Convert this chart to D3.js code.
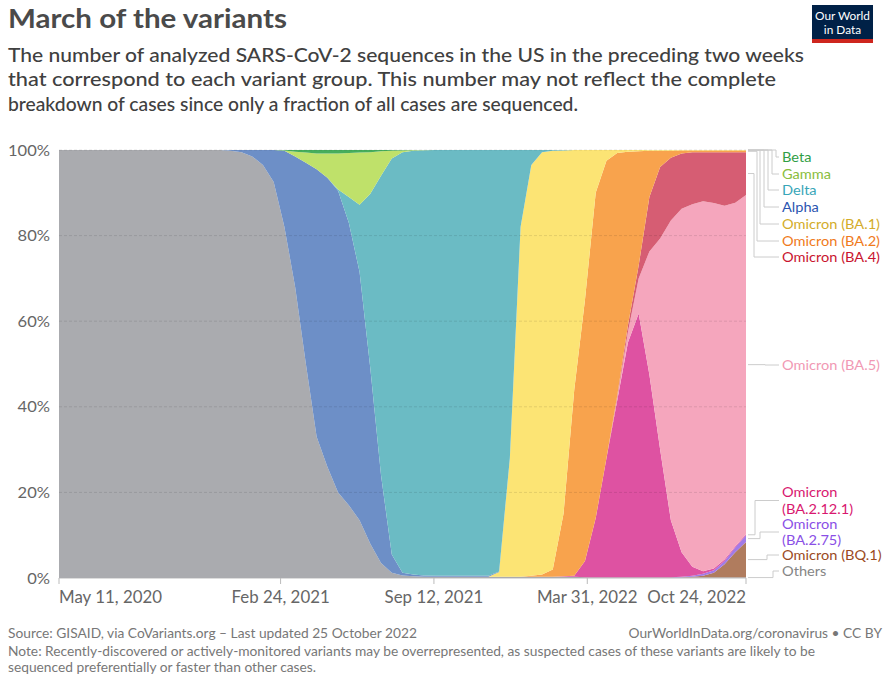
<!DOCTYPE html>
<html><head><meta charset="utf-8">
<script src="https://cdn.jsdelivr.net/npm/d3@7"></script>
<style>body{margin:0;background:#fff;} svg{font-family:Lato,"Noto Sans",sans-serif;}</style>
</head><body><svg id="c" width="890" height="678"></svg>
<script>
// ---------- DATA ----------
const dates = ["2020-05-11","2020-05-25","2020-06-08","2020-06-22","2020-07-06","2020-07-20","2020-08-03","2020-08-17","2020-08-31","2020-09-14","2020-09-28","2020-10-12","2020-10-26","2020-11-09","2020-11-23","2020-12-07",
"2020-12-21","2021-01-04","2021-01-18","2021-02-01","2021-02-15","2021-03-01","2021-03-15","2021-03-29","2021-04-12","2021-04-26","2021-05-10","2021-05-24","2021-06-07","2021-06-21","2021-07-05","2021-07-19","2021-08-02","2021-08-16","2021-08-30",
"2021-09-13","2021-09-27","2021-10-11","2021-10-25","2021-11-08","2021-11-22","2021-12-06","2021-12-20","2022-01-03","2022-01-17","2022-01-31","2022-02-14","2022-02-28","2022-03-14",
"2022-03-28","2022-04-11","2022-04-25","2022-05-09","2022-05-23","2022-06-06","2022-06-20","2022-07-04","2022-07-18","2022-08-01","2022-08-15","2022-08-29","2022-09-12","2022-09-26","2022-10-10","2022-10-24"];

const others = [100,100,100,100,100,100,100,100,100,100,100,100,100,100,100,100,
99.8,99.5,98.5,96.5,92.5,82,68,50,33,26,20,17,13.5,8,3.5,1.2,0.6,0.4,0.3,
0.3,0.3,0.3,0.3,0.3,0.3,0.3,0.3,0.3,0.3,0.3,0.3,0.3,0.3,
0.2,0.2,0.2,0.2,0.2,0.2,0.2,0.2,0.2,0.2,0.2,0.2,0.2,0.2,0.2,0.2];
const bq1 = [0,0,0,0,0,0,0,0,0,0,0,0,0,0,0,0,0,0,0,0,0,0,0,0,0,0,0,0,0,0,0,0,0,0,0,0,0,0,0,0,0,0,0,0,0,0,0,0,0,0,0,0,0,0,0,0,0,0,0,
0.1,0.3,1,3,5.8,8.2];
const ba275 = [0,0,0,0,0,0,0,0,0,0,0,0,0,0,0,0,0,0,0,0,0,0,0,0,0,0,0,0,0,0,0,0,0,0,0,0,0,0,0,0,0,0,0,0,0,0,0,0,0,0,0,0,0,0,0,0,0,0,
0.1,0.2,0.5,0.6,0.8,1.2,1.6];
const ba2121 = [0,0,0,0,0,0,0,0,0,0,0,0,0,0,0,0,0,0,0,0,0,0,0,0,0,0,0,0,0,0,0,0,0,0,0,0,0,0,0,0,0,0,0,0,0,0,0,
0.1,0.2,3.8,13.8,27.8,41.3,54.8,61.6,47.3,29.8,13.3,5.7,2.1,0.6,0.4,0.3,0.2,0.2];
const ba5 = [0,0,0,0,0,0,0,0,0,0,0,0,0,0,0,0,0,0,0,0,0,0,0,0,0,0,0,0,0,0,0,0,0,0,0,0,0,0,0,0,0,0,0,0,0,0,0,0,0,0,0,0,
0.5,2.5,8.2,28.8,49.3,70,80.3,84.7,86.4,85.4,82.7,80.3,79.3];
const ba4 = [0,0,0,0,0,0,0,0,0,0,0,0,0,0,0,0,0,0,0,0,0,0,0,0,0,0,0,0,0,0,0,0,0,0,0,0,0,0,0,0,0,0,0,0,0,0,0,0,0,0,0,0,
0.5,1.5,3,12.7,16.7,14.7,12.9,12.2,11.5,11.9,12.5,11.8,10];
const ba2 = [0,0,0,0,0,0,0,0,0,0,0,0,0,0,0,0,0,0,0,0,0,0,0,0,0,0,0,0,0,0,0,0,0,0,0,0,0,0,0,0,0,0,0,0,
0.2,0.5,1.7,14.6,43.5,61,76,69.5,56.8,40.6,26.7,10.8,3.8,1.65,0.7,0.4,0.4,0.4,0.4,0.4,0.4];
const ba1 = [0,0,0,0,0,0,0,0,0,0,0,0,0,0,0,0,0,0,0,0,0,0,0,0,0,0,0,0,0,0,0,0,0,0,0,0,0,0,0,0,0,
1.1,27.7,81.7,96,98.7,97.8,84.9,56,35,10,2.5,0.7,0.4,0.3,0.2,0.2,0.15,0.1,0.1,0.1,0.1,0.1,0.1,0.1];
const alpha = [0,0,0,0,0,0,0,0,0,0,0,0,0,0,0,0,
0.2,0.5,1.5,3.5,7.5,17.8,30.5,47,62.5,67.5,70.5,66,58,41,20.5,4.3,0.6,0.4,0.3,
0.2,0.2,0.2,0.2,0.2,0.2,0.1,
0,0,0,0,0,0,0,0,0,0,0,0,0,0,0,0,0,0,0,0,0,0,0];
const delta = [0,0,0,0,0,0,0,0,0,0,0,0,0,0,0,0,0,0,0,0,0,0,0,0,0,0,
0.3,6,15.7,40.8,70,92.5,98.3,99.05,99.35,
99.5,99.5,99.5,99.5,99.5,99.5,
98.5,72,18,3.5,0.5,0.2,0.1,
0,0,0,0,0,0,0,0,0,0,0,0,0,0,0,0,0];
const gamma = [0,0,0,0,0,0,0,0,0,0,0,0,0,0,0,0,0,0,0,0,0,
0.1,1.1,2.4,3.7,5.7,8.4,10.3,12.2,9.7,5.7,1.8,0.4,0.1,0.05,
0,0,0,0,0,0,0,0,0,0,0,0,0,0,0,0,0,0,0,0,0,0,0,0,0,0,0,0,0,0];
const beta = [0,0,0,0,0,0,0,0,0,0,0,0,0,0,0,0,0,0,0,0,0,
0.1,0.4,0.6,0.8,0.8,0.8,0.7,0.6,0.5,0.3,0.2,0.1,0.05,
0,0,0,0,0,0,0,0,0,0,0,0,0,0,0,0,0,0,0,0,0,0,0,0,0,0,0,0,0,0,0];

// stacking order: bottom to top
const seriesNames = ["Others","Omicron (BQ.1)","Omicron (BA.2.75)","Omicron (BA.2.12.1)","Omicron (BA.5)","Omicron (BA.4)","Omicron (BA.2)","Omicron (BA.1)","Alpha","Delta","Gamma","Beta"];
const seriesValues = [others,bq1,ba275,ba2121,ba5,ba4,ba2,ba1,alpha,delta,gamma,beta];

const tickDates = ["2020-05-11","2021-02-24","2021-09-12","2022-03-31","2022-10-24"];
const tickLabels = ["May 11, 2020","Feb 24, 2021","Sep 12, 2021","Mar 31, 2022","Oct 24, 2022"];
const yTicks = [0,20,40,60,80,100];

// ---------- STYLE / LAYOUT ----------
const fillColors = {"Others":"#aaabaf","Omicron (BQ.1)":"#b07c5e","Omicron (BA.2.75)":"#a27ae6","Omicron (BA.2.12.1)":"#de52a2",
 "Omicron (BA.5)":"#f5a6bd","Omicron (BA.4)":"#d65d73","Omicron (BA.2)":"#f8a34d","Omicron (BA.1)":"#fce474",
 "Alpha":"#6d8fc7","Delta":"#6bbbc4","Gamma":"#bfe16a","Beta":"#47ae5c"};
const labelColors = {"Others":"#858585","Omicron (BQ.1)":"#9b4a1e","Omicron (BA.2.75)":"#8a4fe6","Omicron (BA.2.12.1)":"#d8176f",
 "Omicron (BA.5)":"#f199b4","Omicron (BA.4)":"#c9142f","Omicron (BA.2)":"#f07a1b","Omicron (BA.1)":"#d3ac2a",
 "Alpha":"#2b55b0","Delta":"#38a6b8","Gamma":"#8abd3c","Beta":"#2f9e45"};
const legendLayout = [
 {s:"Beta", lines:["Beta"], y:157, ex:776},
 {s:"Gamma", lines:["Gamma"], y:174, ex:772},
 {s:"Delta", lines:["Delta"], y:190, ex:768},
 {s:"Alpha", lines:["Alpha"], y:207, ex:764},
 {s:"Omicron (BA.1)", lines:["Omicron (BA.1)"], y:224, ex:760},
 {s:"Omicron (BA.2)", lines:["Omicron (BA.2)"], y:241, ex:757},
 {s:"Omicron (BA.4)", lines:["Omicron (BA.4)"], y:257, ex:754},
 {s:"Omicron (BA.5)", lines:["Omicron (BA.5)"], y:365, ex:765},
 {s:"Omicron (BA.2.12.1)", lines:["Omicron","(BA.2.12.1)"], y:500.5, ex:755},
 {s:"Omicron (BA.2.75)", lines:["Omicron","(BA.2.75)"], y:532, ex:760},
 {s:"Omicron (BQ.1)", lines:["Omicron (BQ.1)"], y:555, ex:767},
 {s:"Others", lines:["Others"], y:571, ex:773}
];

const W=890,H=678, L=59, R=746, T=150, B=578;
const svg = d3.select("#c");
const parse = d3.utcParse("%Y-%m-%d");

// stretch a group of texts horizontally so that one reference text gets a target width
function fit(sel, refNode, target){
  const r = target/refNode.getComputedTextLength();
  sel.each(function(){ const w=this.getComputedTextLength(); this.setAttribute("textLength", w*r); this.setAttribute("lengthAdjust","spacingAndGlyphs"); });
}
function fitOne(node, target){ node.setAttribute("textLength", target); node.setAttribute("lengthAdjust","spacingAndGlyphs"); }

const rows = dates.map((d,i)=>{const o={date:parse(d)}; seriesNames.forEach((n,j)=>o[n]=seriesValues[j][i]); return o;});
const stack = d3.stack().keys(seriesNames).offset(d3.stackOffsetExpand);
const layers = stack(rows);

const x = d3.scaleUtc().domain([parse(dates[0]), parse(dates[dates.length-1])]).range([L,R]);
const y = d3.scaleLinear().domain([0,1]).range([B,T]);

const area = d3.area().x(d=>x(d.data.date)).y0(d=>y(d[0])).y1(d=>y(d[1]));
svg.append("g").selectAll("path").data(layers).join("path")
  .attr("d",area).attr("fill",d=>fillColors[d.key]);

// grid
svg.append("g").selectAll("line").data(yTicks.filter(t=>t>0)).join("line")
  .attr("x1",L).attr("x2",R).attr("y1",d=>y(d/100)).attr("y2",d=>y(d/100))
  .attr("stroke","#000").attr("stroke-opacity",0.1).attr("stroke-dasharray","3,2");

// y labels
const yl = svg.append("g").selectAll("text").data(yTicks).join("text")
  .attr("x",50).attr("y",d=>y(d/100)+5.5).attr("text-anchor","end")
  .attr("font-size",15.5).attr("fill","#666").text(d=>d+"%");
fit(yl, yl.nodes()[5], 42);

// x axis
svg.append("line").attr("x1",L).attr("x2",R).attr("y1",B+0.5).attr("y2",B+0.5).attr("stroke","#ddd");
const tg = svg.append("g");
tickDates.forEach((t,i)=>{
  const xx = x(parse(t));
  tg.append("line").attr("x1",xx).attr("x2",xx).attr("y1",B).attr("y2",B+6).attr("stroke","#bbb");
  tg.append("text").attr("class","xt").attr("x",xx).attr("y",603).attr("font-size",16.5).attr("fill","#666")
    .attr("text-anchor", i===0?"start":(i===tickDates.length-1?"end":"middle")).text(tickLabels[i]);
});
const xts = tg.selectAll("text.xt");
fit(xts, xts.nodes()[0], 103);

// legend with connectors
const last = rows.length-1;
const lg = svg.append("g");
legendLayout.forEach(l=>{
  const layer = layers.find(q=>q.key===l.s);
  const pt = layer[last];
  const my = y((pt[0]+pt[1])/2);
  lg.append("path").attr("d",`M${R+2},${my}H${l.ex}V${l.y}H${779}`)
    .attr("fill","none").attr("stroke","#ccc").attr("stroke-width",1);
  const n = l.lines.length;
  l.lines.forEach((ln,k)=>{
    lg.append("text").attr("class","lt"+(ln==="Omicron (BA.4)"?" ref":"")).attr("x",782).attr("y",l.y+5+(k-(n-1)/2)*16.5)
      .attr("font-size",13.5).attr("fill",labelColors[l.s]).text(ln);
  });
});
const lts = lg.selectAll("text");
fit(lts, lg.select("text.ref").node(), 98);

// title & subtitle
const tt = svg.append("text").attr("x",8).attr("y",28).attr("font-size",26.5).attr("font-weight",700).attr("fill","#4a4a4a").text("March of the variants");
fitOne(tt.node(), 279);
const subLines = ["The number of analyzed SARS-CoV-2 sequences in the US in the preceding two weeks",
 "that correspond to each variant group. This number may not reflect the complete",
 "breakdown of cases since only a fraction of all cases are sequenced."];
const subWidths = [796, 768, 570];
subLines.forEach((s,i)=>{
  const t = svg.append("text").attr("x",8).attr("y",61.5+i*24.8).attr("font-size",18.5).attr("font-weight",500).attr("fill","#404040").text(s);
  fitOne(t.node(), subWidths[i]);
});

// logo
svg.append("rect").attr("x",812).attr("y",5).attr("width",61).attr("height",38).attr("fill","#002147");
svg.append("rect").attr("x",812).attr("y",39).attr("width",61).attr("height",4).attr("fill","#ce261e");
const lgT = svg.append("g");
lgT.append("text").attr("x",842.5).attr("y",19.5).attr("text-anchor","middle").attr("font-size",12).attr("fill","#fff").text("Our World");
lgT.append("text").attr("x",842.5).attr("y",34).attr("text-anchor","middle").attr("font-size",12).attr("fill","#fff").text("in Data");
fit(lgT.selectAll("text"), lgT.select("text").node(), 55);

// footer
const ft = svg.append("g");
ft.append("text").attr("x",8).attr("y",638).attr("font-size",13.5).attr("fill","#777").text("Source: GISAID, via CoVariants.org – Last updated 25 October 2022");
ft.append("text").attr("x",882).attr("y",638).attr("text-anchor","end").attr("font-size",13.5).attr("fill","#777").text("OurWorldInData.org/coronavirus • CC BY");
ft.append("text").attr("x",8).attr("y",656).attr("font-size",13.5).attr("fill","#777").text("Note: Recently-discovered or actively-monitored variants may be overrepresented, as suspected cases of these variants are likely to be");
ft.append("text").attr("x",8).attr("y",672).attr("font-size",13.5).attr("fill","#777").text("sequenced preferentially or faster than other cases.");
const fts = ft.selectAll("text");
fit(fts, fts.nodes()[2], 807);
</script></body></html>
